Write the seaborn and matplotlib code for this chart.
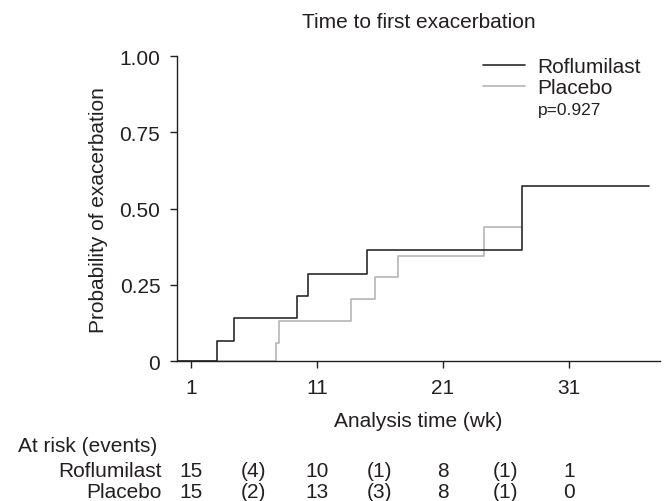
import pandas as pd
import matplotlib.pyplot as plt
import matplotlib.transforms as mtransforms
import seaborn as sns

# step curves
rof_time = [0, 3.1, 4.4, 9.4, 10.3, 15.0, 27.3, 37.35]
rof_prob = [0, 0.067, 0.140, 0.212, 0.284, 0.364, 0.575, 0.575]
pla_time = [0, 7.8, 8.0, 13.7, 15.6, 17.45, 24.3, 27.3]
pla_prob = [0, 0.060, 0.131, 0.202, 0.276, 0.346, 0.441, 0.441]

x_ticks = [1, 11, 21, 31]
y_ticks = [0, 0.25, 0.5, 0.75, 1.0]
y_tick_labels = ['0', '0.25', '0.50', '0.75', '1.00']

# at risk (events) table
risk_cols = [1, 6, 11, 16, 21, 26, 31]
rof_risk = ['15', '(4)', '10', '(1)', '8', '(1)', '1']
pla_risk = ['15', '(2)', '13', '(3)', '8', '(1)', '0']

sns.set_theme(style='ticks')
plt.rcParams['font.family'] = ['Liberation Sans', 'DejaVu Sans']
txt = '#231f20'
plt.rcParams['text.color'] = txt
plt.rcParams['axes.labelcolor'] = txt
plt.rcParams['xtick.color'] = txt
plt.rcParams['ytick.color'] = txt

df = pd.concat([
    pd.DataFrame({'time': rof_time, 'prob': rof_prob, 'group': 'Roflumilast'}),
    pd.DataFrame({'time': pla_time, 'prob': pla_prob, 'group': 'Placebo'}),
])

fig = plt.figure(figsize=(6.7, 5.02), dpi=100)
ax = fig.add_axes([177 / 670, 1 - 362 / 502, 483 / 670, 304.7 / 502])

sns.lineplot(data=df[df.group == 'Placebo'], x='time', y='prob', ax=ax,
             drawstyle='steps-post', color='#b5b5b5', lw=1.2,
             estimator=None, sort=False, label='Placebo')
sns.lineplot(data=df[df.group == 'Roflumilast'], x='time', y='prob', ax=ax,
             drawstyle='steps-post', color='#2a2a2a', lw=1.2,
             estimator=None, sort=False, label='Roflumilast')

ax.set_xlim(-0.1, 38.25)
ax.set_ylim(0, 1)
ax.set_xticks(x_ticks)
ax.set_yticks(y_ticks)
ax.set_yticklabels(y_tick_labels)
ax.tick_params(labelsize=15, length=5, width=1, pad=7, direction='out')
for s in ['top', 'right']:
    ax.spines[s].set_visible(False)
for s in ['left', 'bottom']:
    ax.spines[s].set_linewidth(1)
    ax.spines[s].set_color(txt)

ax.set_xlabel('Analysis time (wk)', fontsize=15, labelpad=10)
ax.set_ylabel('Probability of exacerbation', fontsize=15, labelpad=8)

fig.text(419 / 670, 1 - 23 / 502, 'Time to first exacerbation',
         fontsize=15, ha='center', va='center')

handles, labels = ax.get_legend_handles_labels()
order = [labels.index('Roflumilast'), labels.index('Placebo')]
ax.legend([handles[i] for i in order], [labels[i] for i in order],
          loc='upper left', bbox_to_anchor=(483 / 670, 1 - 58 / 502),
          bbox_transform=fig.transFigure, frameon=False, fontsize=15,
          handlelength=2.0, handletextpad=0.6, borderpad=0,
          borderaxespad=0, labelspacing=0.1)
fig.text(538 / 670, 1 - 110 / 502, 'p=0.927', fontsize=12.5,
         ha='left', va='center')

# at risk table, columns follow the time axis
trans = mtransforms.blended_transform_factory(ax.transData, fig.transFigure)
fig.text(18 / 670, 1 - 447 / 502, 'At risk (events)', fontsize=15,
         ha='left', va='center')
for row_y, name, vals in [(471.5, 'Roflumilast', rof_risk),
                          (492.5, 'Placebo', pla_risk)]:
    fig.text(161.5 / 670, 1 - row_y / 502, name, fontsize=15,
             ha='right', va='center')
    for c, v in zip(risk_cols, vals):
        ax.text(c, 1 - row_y / 502, v, transform=trans, fontsize=15,
                ha='center', va='center', clip_on=False)

fig.savefig('out.png', dpi=100)
